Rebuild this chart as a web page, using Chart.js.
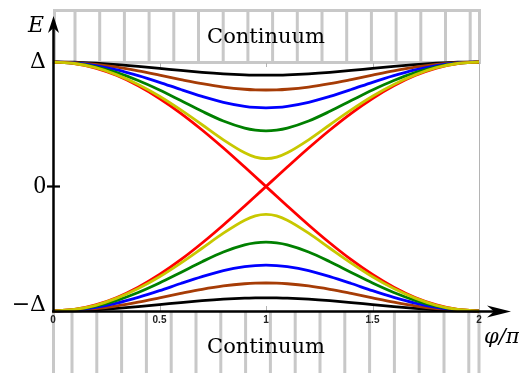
<!DOCTYPE html>
<html>
<head>
<meta charset="utf-8">
<script src="https://cdn.jsdelivr.net/npm/chart.js@4.4.0/dist/chart.umd.min.js"></script>
<style>
  html, body { margin: 0; padding: 0; background: #fff; }
  canvas { display: block; }
</style>
</head>
<body>
<canvas id="abs" width="519" height="373"></canvas>
<script>
(() => {
  // phase difference in units of pi
  const phi = [0, 0.1, 0.2, 0.3, 0.4, 0.5, 0.6, 0.7, 0.8, 0.9, 0.95, 1, 1.05, 1.1, 1.2, 1.3, 1.4, 1.5, 1.6, 1.7, 1.8, 1.9, 2];
  const xTickLabels = ['0', '0.5', '1', '1.5', '2'];
  const yTickLabels = ['\u2212\u0394', '0', '\u0394'];

  // bound state energies in units of the gap
  const blackUp = [1, 0.998, 0.990, 0.979, 0.965, 0.949, 0.932, 0.917, 0.905, 0.897, 0.895, 0.894, 0.895, 0.897, 0.905, 0.917, 0.932, 0.949, 0.965, 0.979, 0.990, 0.998, 1];
  const blackDown = [-1, -0.998, -0.990, -0.979, -0.965, -0.949, -0.932, -0.917, -0.905, -0.897, -0.895, -0.894, -0.895, -0.897, -0.905, -0.917, -0.932, -0.949, -0.965, -0.979, -0.990, -0.998, -1];
  const brownUp = [1, 0.995, 0.981, 0.958, 0.928, 0.894, 0.859, 0.826, 0.799, 0.781, 0.776, 0.775, 0.776, 0.781, 0.799, 0.826, 0.859, 0.894, 0.928, 0.958, 0.981, 0.995, 1];
  const brownDown = [-1, -0.995, -0.981, -0.958, -0.928, -0.894, -0.859, -0.826, -0.799, -0.781, -0.776, -0.775, -0.776, -0.781, -0.799, -0.826, -0.859, -0.894, -0.928, -0.958, -0.981, -0.995, -1];
  const blueUp = [1, 0.993, 0.971, 0.936, 0.890, 0.837, 0.779, 0.724, 0.676, 0.644, 0.635, 0.632, 0.635, 0.644, 0.676, 0.724, 0.779, 0.837, 0.890, 0.936, 0.971, 0.993, 1];
  const blueDown = [-1, -0.993, -0.971, -0.936, -0.890, -0.837, -0.779, -0.724, -0.676, -0.644, -0.635, -0.632, -0.635, -0.644, -0.676, -0.724, -0.779, -0.837, -0.890, -0.936, -0.971, -0.993, -1];
  const greenUp = [1, 0.990, 0.961, 0.914, 0.851, 0.775, 0.690, 0.604, 0.526, 0.469, 0.453, 0.447, 0.453, 0.469, 0.526, 0.604, 0.690, 0.775, 0.851, 0.914, 0.961, 0.990, 1];
  const greenDown = [-1, -0.990, -0.961, -0.914, -0.851, -0.775, -0.690, -0.604, -0.526, -0.469, -0.453, -0.447, -0.453, -0.469, -0.526, -0.604, -0.690, -0.775, -0.851, -0.914, -0.961, -0.990, -1];
  const yellowUp = [1, 0.988, 0.954, 0.897, 0.820, 0.725, 0.615, 0.496, 0.375, 0.271, 0.236, 0.224, 0.236, 0.271, 0.375, 0.496, 0.615, 0.725, 0.820, 0.897, 0.954, 0.988, 1];
  const yellowDown = [-1, -0.988, -0.954, -0.897, -0.820, -0.725, -0.615, -0.496, -0.375, -0.271, -0.236, -0.224, -0.236, -0.271, -0.375, -0.496, -0.615, -0.725, -0.820, -0.897, -0.954, -0.988, -1];
  const redFalling = [1, 0.988, 0.951, 0.891, 0.809, 0.707, 0.588, 0.454, 0.309, 0.156, 0.078, 0, -0.078, -0.156, -0.309, -0.454, -0.588, -0.707, -0.809, -0.891, -0.951, -0.988, -1];
  const redRising = [-1, -0.988, -0.951, -0.891, -0.809, -0.707, -0.588, -0.454, -0.309, -0.156, -0.078, 0, 0.078, 0.156, 0.309, 0.454, 0.588, 0.707, 0.809, 0.891, 0.951, 0.988, 1];

  // first entry ends up on top
  const curves = [
    [yellowUp, '#c8c800'], [yellowDown, '#c8c800'],
    [redFalling, '#ff0000'], [redRising, '#ff0000'],
    [greenUp, '#008000'], [greenDown, '#008000'],
    [blueUp, '#0000ff'], [blueDown, '#0000ff'],
    [brownUp, '#a63c06'], [brownDown, '#a63c06'],
    [blackUp, '#000000'], [blackDown, '#000000']
  ];

  const datasets = curves.map(([values, color]) => ({
    data: phi.map((x, i) => ({ x, y: values[i] })),
    borderColor: color,
    borderWidth: 2.8,
    pointRadius: 0,
    cubicInterpolationMode: 'monotone',
    fill: false,
    clip: 5
  }));

  const grey = '#c8c8c8';
  const serif = '"DejaVu Serif", serif';

  const arrowHead = (ctx, tipX, tipY, dx, dy, len, half, notch) => {
    const nx = -dy, ny = dx;
    const bx = tipX - dx * len, by = tipY - dy * len;
    ctx.beginPath();
    ctx.moveTo(tipX, tipY);
    ctx.lineTo(bx + nx * half, by + ny * half);
    ctx.lineTo(tipX - dx * notch, tipY - dy * notch);
    ctx.lineTo(bx - nx * half, by - ny * half);
    ctx.closePath();
    ctx.fill();
  };

  const decor = {
    id: 'decor',
    beforeDraw(chart) {
      const { ctx, chartArea: a, scales: { x } } = chart;
      const mid = (a.left + a.right) / 2;
      ctx.save();
      ctx.fillStyle = '#fff';
      ctx.fillRect(0, 0, chart.width, chart.height);

      // continuum above the gap: framed box with vertical hatching
      ctx.strokeStyle = grey;
      ctx.lineWidth = 3;
      ctx.strokeRect(a.left + 1.5, 10.5, a.right - a.left - 1, a.top - 10);
      ctx.beginPath();
      for (let k = 0; k < 17; k++) {
        const sx = 75 + 24.7 * k;
        ctx.moveTo(sx, 10.5);
        ctx.lineTo(sx, a.top);
      }
      ctx.stroke();

      // continuum below the gap: hatching only
      ctx.beginPath();
      const below = [a.left + 0.5, a.right];
      for (let k = 0; k < 17; k++) below.push(72 + 24.8 * k);
      below.forEach((sx) => {
        ctx.moveTo(sx, a.bottom + 1);
        ctx.lineTo(sx, chart.height);
      });
      ctx.stroke();

      ctx.fillStyle = '#000';
      ctx.font = '21px ' + serif;
      ctx.textAlign = 'center';
      ctx.textBaseline = 'alphabetic';
      ctx.fillText('Continuum', mid, 43);
      ctx.fillText('Continuum', mid, 353);

      // right frame edge and small inner ticks
      ctx.strokeStyle = '#b4b4b4';
      ctx.lineWidth = 1;
      ctx.beginPath();
      ctx.moveTo(a.right + 0.5, a.top);
      ctx.lineTo(a.right + 0.5, a.bottom);
      [0.5, 1, 1.5].forEach((v) => {
        const px = Math.round(x.getPixelForValue(v)) + 0.5;
        ctx.moveTo(px, a.top + 1);
        ctx.lineTo(px, a.top + 5);
        ctx.moveTo(px, a.bottom - 5);
        ctx.lineTo(px, a.bottom);
      });
      ctx.stroke();
      ctx.restore();
    },
    afterDatasetsDraw(chart) {
      const { ctx, chartArea: a, scales: { y } } = chart;
      ctx.save();
      ctx.strokeStyle = '#000';
      ctx.fillStyle = '#000';

      // energy axis
      ctx.lineWidth = 2.5;
      ctx.beginPath();
      ctx.moveTo(a.left + 0.5, a.bottom + 1);
      ctx.lineTo(a.left + 0.5, 28);
      ctx.stroke();
      arrowHead(ctx, a.left + 0.5, 16, 0, -1, 17, 5.5, 12);

      // phase axis
      ctx.lineWidth = 2.7;
      ctx.beginPath();
      ctx.moveTo(a.left - 1, a.bottom + 0.5);
      ctx.lineTo(498, a.bottom + 0.5);
      ctx.stroke();
      arrowHead(ctx, 511, a.bottom + 0.5, 1, 0, 24, 6, 17);

      // tick through the axis at E = 0
      const y0 = y.getPixelForValue(0);
      ctx.lineWidth = 2.2;
      ctx.beginPath();
      ctx.moveTo(a.left - 6, y0);
      ctx.lineTo(a.left + 7, y0);
      ctx.stroke();

      ctx.font = 'italic 22px ' + serif;
      ctx.textAlign = 'center';
      ctx.fillText('E', 36, 32);
      ctx.font = 'italic 21px ' + serif;
      ctx.textAlign = 'left';
      ctx.fillText('\u03c6/\u03c0', 484, 343);
      ctx.restore();
    }
  };

  new Chart(document.getElementById('abs'), {
    type: 'line',
    data: { datasets },
    options: {
      responsive: false,
      animation: false,
      layout: { padding: { top: 62, right: 40, left: 0, bottom: 0 } },
      plugins: { legend: { display: false }, tooltip: { enabled: false } },
      scales: {
        x: {
          type: 'linear',
          min: 0,
          max: 2,
          afterFit: (scale) => { scale.height = 62; },
          afterBuildTicks: (scale) => {
            scale.ticks = xTickLabels.map((_, i) => ({ value: i * 0.5 }));
          },
          ticks: {
            callback: (v, i) => xTickLabels[i],
            padding: 3,
            maxRotation: 0,
            color: '#222',
            font: { family: '"Liberation Sans", Arial, sans-serif', size: 10, weight: 'bold' }
          },
          grid: { display: false, drawTicks: false },
          border: { display: false }
        },
        y: {
          type: 'linear',
          min: -1,
          max: 1,
          afterFit: (scale) => { scale.width = 53; },
          afterBuildTicks: (scale) => {
            scale.ticks = yTickLabels.map((_, i) => ({ value: i - 1 }));
          },
          ticks: {
            // the lower gap label sits a little above its tick
            callback: (v, i) => (i === 0 ? [yTickLabels[i], ''] : yTickLabels[i]),
            padding: 7,
            color: '#000',
            font: (c) => (c.tick && c.tick.value === 0)
              ? { family: '"Liberation Serif", serif', size: 25 }
              : { family: serif, size: 22, lineHeight: 0.55 }
          },
          grid: { display: false, drawTicks: false },
          border: { display: false }
        }
      }
    },
    plugins: [decor]
  });
})();
</script>
</body>
</html>
